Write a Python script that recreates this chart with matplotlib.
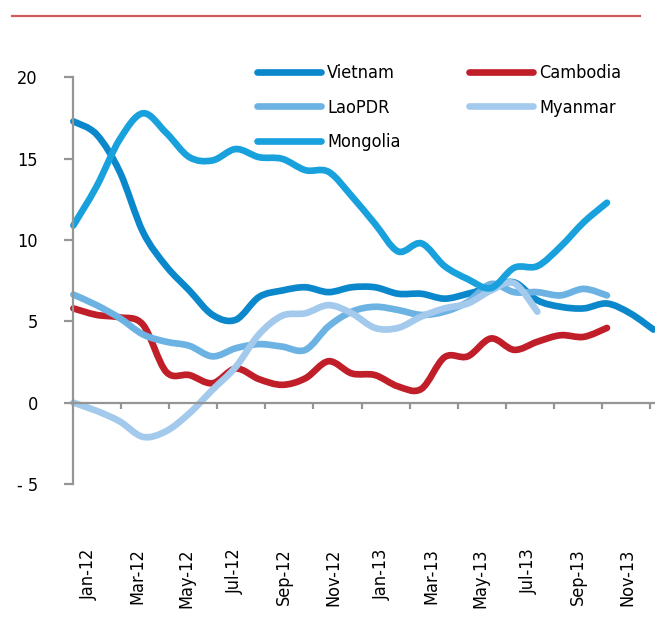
import matplotlib
matplotlib.use("Agg")
import matplotlib.pyplot as plt
from matplotlib.path import Path
from matplotlib.patches import PathPatch
from matplotlib.lines import Line2D
from matplotlib import font_manager

# monthly values from Jan-12
vietnam = [17.3, 16.5, 14.2, 10.5, 8.4, 6.9, 5.4, 5.1, 6.5, 6.9, 7.1, 6.8, 7.1,
           7.1, 6.7, 6.7, 6.4, 6.7, 7.1, 7.4, 6.3, 5.9, 5.8, 6.1, 5.5, 4.5]
cambodia = [5.8, 5.4, 5.25, 4.8, 1.9, 1.7, 1.2, 2.1, 1.45, 1.1, 1.5, 2.55, 1.8,
            1.7, 1.0, 0.85, 2.8, 2.85, 3.95, 3.25, 3.75, 4.15, 4.05, 4.6]
laopdr = [6.65, 6.0, 5.2, 4.2, 3.75, 3.5, 2.85, 3.35, 3.6, 3.45, 3.25, 4.7, 5.6,
          5.9, 5.7, 5.4, 5.6, 6.2, 7.3, 6.8, 6.8, 6.6, 7.0, 6.6]
myanmar = [0.0, -0.5, -1.15, -2.1, -1.75, -0.65, 0.8, 2.2, 4.2, 5.35, 5.5, 6.0,
           5.5, 4.6, 4.6, 5.3, 5.8, 6.1, 6.9, 7.35, 5.6]
mongolia = [10.9, 13.3, 16.2, 17.8, 16.6, 15.1, 14.9, 15.6, 15.1, 15.0, 14.3,
            14.2, 12.7, 11.0, 9.3, 9.8, 8.4, 7.6, 7.05, 8.3, 8.4, 9.6, 11.1, 12.3]

tick_labels = ["Jan-12", "Mar-12", "May-12", "Jul-12", "Sep-12", "Nov-12",
               "Jan-13", "Mar-13", "May-13", "Jul-13", "Sep-13", "Nov-13"]

series = [
    ("Vietnam", vietnam, "#0a88cb"),
    ("Cambodia", cambodia, "#c01f2a"),
    ("LaoPDR", laopdr, "#6cb3e3"),
    ("Myanmar", myanmar, "#a3c9ec"),
    ("Mongolia", mongolia, "#18a1dc"),
]

# condensed face if the system has one
cond = [f.fname for f in font_manager.fontManager.ttflist
        if f.name == "DejaVu Sans" and f.stretch == "condensed"
        and f.weight in (400, "normal") and f.style == "normal"]
if cond:
    FP = font_manager.FontProperties(fname=cond[0], size=13)
else:
    FP = font_manager.FontProperties(family="Liberation Sans", size=13)

LW = 4.8
GREY = "#959595"


def smooth_path(ys):
    # excel style smoothed line: cubic bezier through every point
    pts = [(float(i), float(v)) for i, v in enumerate(ys)]
    verts = [pts[0]]
    codes = [Path.MOVETO]
    n = len(pts)
    for i in range(n - 1):
        p0 = pts[max(i - 1, 0)]
        p1 = pts[i]
        p2 = pts[i + 1]
        p3 = pts[min(i + 2, n - 1)]
        c1 = (p1[0] + (p2[0] - p0[0]) / 6, p1[1] + (p2[1] - p0[1]) / 6)
        c2 = (p2[0] - (p3[0] - p1[0]) / 6, p2[1] - (p3[1] - p1[1]) / 6)
        verts += [c1, c2, p2]
        codes += [Path.CURVE4] * 3
    return Path(verts, codes)


fig = plt.figure(figsize=(6.55, 6.18), dpi=100)
ax = fig.add_axes([0.112, 0.2168, 0.888, 0.6578])

handles = {}
for name, ys, color in series:
    patch = PathPatch(smooth_path(ys), fill=False, edgecolor=color, lw=LW,
                      capstyle="round", joinstyle="round", clip_on=False)
    ax.add_patch(patch)
    handles[name] = Line2D([], [], color=color, lw=LW, solid_capstyle="round")

ax.set_xlim(0, 25.07)
ax.set_ylim(-5, 20)

for s in ("top", "right"):
    ax.spines[s].set_visible(False)
ax.spines["left"].set_color(GREY)
ax.spines["left"].set_linewidth(1.6)
ax.spines["bottom"].set_position(("data", 0))
ax.spines["bottom"].set_color(GREY)
ax.spines["bottom"].set_linewidth(1.6)

ax.set_yticks([-5, 0, 5, 10, 15, 20])
ax.set_yticklabels(["- 5", "0", "5", "10", "15", "20"], fontproperties=FP)
ax.tick_params(axis="y", length=6.5, width=1.6, color=GREY, pad=19)

# labels sit below the plot; tick marks on the zero line
ax.set_xticks([0.65 + 2.11 * k for k in range(len(tick_labels))])
ax.set_xticklabels(tick_labels, rotation=90, va="top", ha="center", fontproperties=FP)
ax.tick_params(axis="x", which="major", length=0, pad=105)
ax.set_xticks([2.07 * k for k in range(1, 13)], minor=True)
ax.tick_params(axis="x", which="minor", length=4.5, width=1.6, color=GREY, direction="out")

order = ["Vietnam", "LaoPDR", "Mongolia", "Cambodia", "Myanmar"]
leg = fig.legend([handles[n] for n in order], order, ncol=2, frameon=False,
                 loc="upper left", bbox_to_anchor=(257 / 655, 1 - 64 / 618),
                 borderpad=0, borderaxespad=0, handlelength=3.55,
                 handletextpad=0.33, columnspacing=3.8, labelspacing=0.92,
                 prop=FP)

# thin red rule across the top
fig.add_artist(Line2D([12 / 655, 640 / 655], [1 - 16 / 618, 1 - 16 / 618],
                      color="#cf5c5c", lw=1.6))

fig.savefig("out.png", dpi=100)
